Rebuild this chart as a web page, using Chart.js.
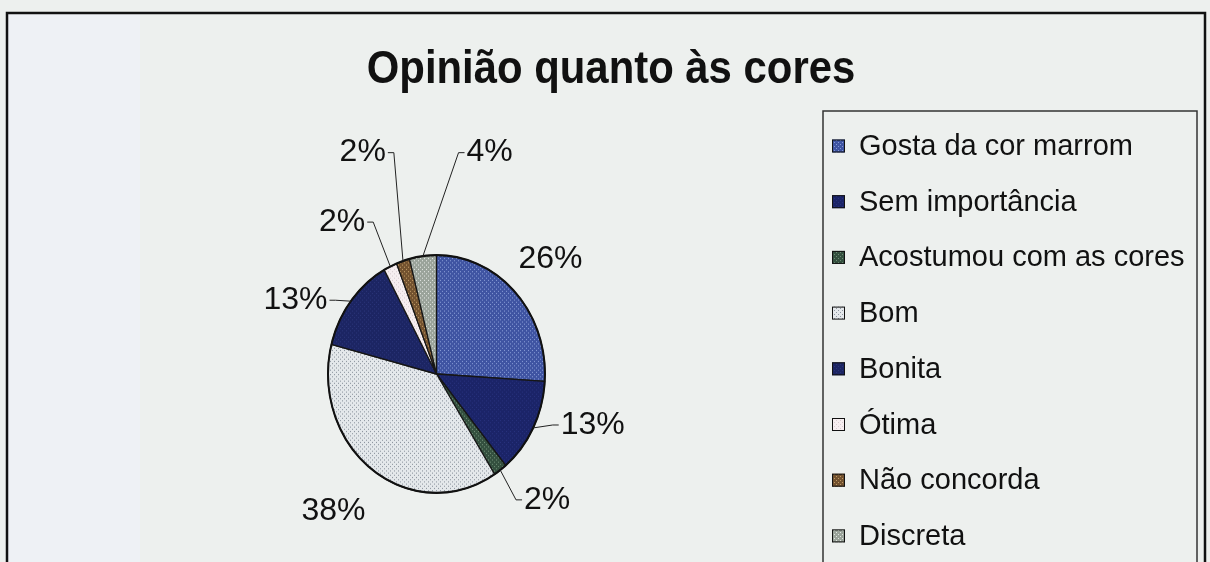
<!DOCTYPE html>
<html lang="pt">
<head>
<meta charset="UTF-8">
<title>Opinião quanto às cores</title>
<script src="https://cdn.jsdelivr.net/npm/chart.js"></script>
<style>
  html, body { margin: 0; padding: 0; background: #edf0ee; overflow: hidden; }
  #chart { display: block; }
</style>
</head>
<body>
<canvas id="chart" width="1210" height="562"></canvas>
<script>
// --- data ---
const categories = ["Gosta da cor marrom", "Sem importância", "Acostumou com as cores", "Bom", "Bonita", "Ótima", "Não concorda", "Discreta"];
const percentValues = [26, 13, 2, 38, 13, 2, 2, 4];
const chartTitle = "Opinião quanto às cores";

// slice fills: [base colour, dot colour]
const sliceStyles = [
  ["#3f54a2", "#8599d4"],
  ["#1b2468", "#27317c"],
  ["#34503f", "#6e8c74"],
  ["#e4e8eb", "#8e96a0"],
  ["#1c2563", "#2a3478"],
  ["#f6eef0", "#d8ccd0"],
  ["#73522f", "#c09a64"],
  ["#9aa39a", "#e2e6e2"]
];

// label placement, offsets from the pie centre in radius units; leader = draw a leader line
const labelLayout = [
  { dx: 1.05, dy: -1.06, leader: false },
  { dx: 1.44, dy: 0.47, leader: true },
  { dx: 1.02, dy: 1.16, leader: true },
  { dx: -0.95, dy: 1.26, leader: false },
  { dx: -1.30, dy: -0.68, leader: true },
  { dx: -0.87, dy: -1.40, leader: true },
  { dx: -0.68, dy: -2.04, leader: true },
  { dx: 0.49, dy: -2.04, leader: true }
];

const FONT = '"Liberation Sans", Arial, sans-serif';
const Y_STRETCH = 1.095; // the scanned pie is a little taller than wide

function makePattern(base, dot) {
  const c = document.createElement("canvas");
  c.width = 4; c.height = 4;
  const g = c.getContext("2d");
  g.fillStyle = base;
  g.fillRect(0, 0, 4, 4);
  g.fillStyle = dot;
  g.fillRect(0, 0, 1, 1);
  g.fillRect(2, 2, 1, 1);
  return g.createPattern(c, "repeat");
}
const fills = sliceStyles.map(s => makePattern(s[0], s[1]));

const framePlugin = {
  id: "frame",
  beforeDraw(chart) {
    const ctx = chart.ctx;
    ctx.save();
    ctx.fillStyle = "#edf0ee";
    ctx.fillRect(0, 0, chart.width, chart.height);
    ctx.fillStyle = "#eef1f5";
    ctx.fillRect(8, 14, 132, chart.height);
    ctx.strokeStyle = "#111";
    ctx.lineWidth = 2.5;
    ctx.beginPath();
    ctx.moveTo(7, chart.height + 5);
    ctx.lineTo(7, 13);
    ctx.lineTo(1205, 13);
    ctx.lineTo(1205, chart.height + 5);
    ctx.stroke();
    // title, slightly condensed like the original
    ctx.fillStyle = "#111";
    ctx.font = "bold 46px " + FONT;
    ctx.textAlign = "center";
    ctx.textBaseline = "alphabetic";
    ctx.translate(611, 83);
    ctx.scale(0.91, 1);
    ctx.fillText(chartTitle, 0, 0);
    ctx.restore();
  },
  beforeDatasetsDraw(chart) {
    const arc = chart.getDatasetMeta(0).data[0];
    const ctx = chart.ctx;
    ctx.save();
    ctx.translate(arc.x, arc.y);
    ctx.scale(1, Y_STRETCH);
    ctx.translate(-arc.x, -arc.y);
  },
  afterDatasetsDraw(chart) {
    const arc = chart.getDatasetMeta(0).data[0];
    const ctx = chart.ctx;
    ctx.beginPath();
    ctx.arc(arc.x, arc.y, arc.outerRadius, 0, Math.PI * 2);
    ctx.strokeStyle = "#111";
    ctx.lineWidth = 2;
    ctx.stroke();
    ctx.restore();
  },
  afterDraw(chart) {
    const ctx = chart.ctx;
    const meta = chart.getDatasetMeta(0);
    const total = percentValues.reduce((a, b) => a + b, 0);
    ctx.save();
    ctx.font = "32px " + FONT;
    ctx.fillStyle = "#111";
    ctx.strokeStyle = "#222";
    ctx.lineWidth = 1;
    ctx.textBaseline = "middle";
    ctx.textAlign = "center";
    meta.data.forEach((arc, i) => {
      const r = arc.outerRadius;
      const mid = (arc.startAngle + arc.endAngle) / 2;
      const lay = labelLayout[i];
      const lx = arc.x + lay.dx * r;
      const ly = arc.y + lay.dy * r;
      const txt = Math.round(percentValues[i] / total * 100) + "%";
      const w = ctx.measureText(txt).width;
      if (lay.leader) {
        const sx = arc.x + Math.cos(mid) * r;
        const sy = arc.y + Math.sin(mid) * r * Y_STRETCH;
        const right = lx > sx;
        const ex = right ? lx - w / 2 - 2 : lx + w / 2 + 2;
        const hx = right ? ex - 6 : ex + 6;
        ctx.beginPath();
        ctx.moveTo(sx, sy);
        ctx.lineTo(hx, ly);
        ctx.lineTo(ex, ly);
        ctx.stroke();
      }
      ctx.fillText(txt, lx, ly);
    });

    // legend
    const bx = 823, by = 111, bw = 374;
    ctx.font = "29px " + FONT;
    ctx.strokeStyle = "#333";
    ctx.lineWidth = 1.5;
    ctx.strokeRect(bx, by, bw, chart.height);
    ctx.textAlign = "left";
    ctx.textBaseline = "middle";
    chart.data.labels.forEach((lab, i) => {
      const cy = by + 35 + i * 55.7;
      ctx.fillStyle = chart.data.datasets[0].backgroundColor[i];
      ctx.fillRect(832, cy - 6.5, 13, 13);
      ctx.strokeStyle = "#111";
      ctx.lineWidth = 1;
      ctx.strokeRect(832.5, cy - 6, 12, 12);
      ctx.fillStyle = "#111";
      ctx.fillText(lab, 859, cy + 1);
    });
    ctx.restore();
  }
};

new Chart(document.getElementById("chart"), {
  type: "pie",
  data: {
    labels: categories,
    datasets: [{
      data: percentValues,
      backgroundColor: fills,
      borderColor: "#161616",
      borderWidth: 1.2,
      hoverOffset: 0
    }]
  },
  options: {
    responsive: false,
    animation: false,
    radius: 108.5,
    layout: { padding: { left: 300, right: 637, top: 224, bottom: 38 } },
    plugins: {
      legend: { display: false },
      tooltip: { enabled: false }
    }
  },
  plugins: [framePlugin]
});
</script>
</body>
</html>
